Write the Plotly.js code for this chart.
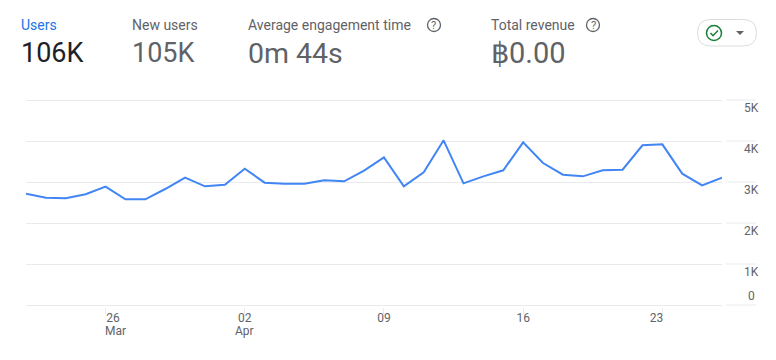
<!DOCTYPE html>
<html>
<head>
<meta charset="utf-8">
<script src="https://cdn.plot.ly/plotly-3.0.1.min.js"></script>
<style>html,body{margin:0;padding:0;background:#fff;overflow:hidden}</style>
</head>
<body>
<div id="chart" style="width:776px;height:360px"></div>
<script>
const dates = ['2023-03-22','2023-03-23','2023-03-24','2023-03-25','2023-03-26','2023-03-27','2023-03-28','2023-03-29','2023-03-30','2023-03-31','2023-04-01','2023-04-02','2023-04-03','2023-04-04','2023-04-05','2023-04-06','2023-04-07','2023-04-08','2023-04-09','2023-04-10','2023-04-11','2023-04-12','2023-04-13','2023-04-14','2023-04-15','2023-04-16','2023-04-17','2023-04-18','2023-04-19','2023-04-20','2023-04-21','2023-04-22','2023-04-23','2023-04-24','2023-04-25','2023-04-26'];
const users = [2715,2618,2602,2700,2886,2577,2577,2829,3106,2894,2935,3325,2984,2959,2959,3040,3016,3276,3600,2894,3236,4016,2967,3138,3285,3967,3463,3179,3138,3285,3300,3894,3918,3203,2919,3106];
const xTickVals = ['2023-03-26','2023-04-02','2023-04-09','2023-04-16','2023-04-23'];
const xTickText = ['\u00a0\u00a0\u00a0\u00a0\u00a026','02','09','16','23\u00a0\u00a0\u00a0\u00a0'];
const monthLabels = ['Mar','Apr'];
const monthDates = ['2023-03-26','2023-04-02'];
const yTickVals = [0,1000,2000,3000,4000,5000];
const yTickText = ['','1K','2K','3K','4K','5K'];
const metricLabels = ['Users','New users','Average engagement time','Total revenue'];
const metricValues = ['106K','105K','0m 44s','\u0E3F0.00'];
const metricSizes = [27,27,28.5,29];

const W=776,H=360,L=26,R=54,T=98,B=53;
const yPad=2*5000/205;
const px=x=>(x-L)/(W-L-R), py=y=>1-(y-T)/(H-T-B);
const FONT='Roboto, sans-serif', GREY='#5f6368', GRID='#e8eaed';
const labelX=[20,131,247,490];
const labelCol=['#1a73e8',GREY,GREY,GREY];
const valueCol=['#202124',GREY,GREY,GREY];

const ann=[];
function text(t,x,y,size,color,anchor){
  ann.push({text:t,x:px(x),y:py(y),xref:'paper',yref:'paper',xanchor:anchor||'left',yanchor:'middle',showarrow:false,borderpad:0,
    font:{family:FONT,size:size,color:color}});
}
metricLabels.forEach((t,i)=>text(t,labelX[i],25,14,labelCol[i]));
metricValues.forEach((t,i)=>text(t,labelX[i],53,metricSizes[i],valueCol[i]));
text('?',434,25,11,GREY,'center');
text('?',593,25,11,GREY,'center');
text('0',756,296,12,GREY,'right');
monthLabels.forEach((t,i)=>ann.push({text:t,x:monthDates[i],xref:'x',y:py(330.5),yref:'paper',xanchor:'center',yanchor:'middle',
  xshift:i===0?10:0,showarrow:false,borderpad:0,font:{family:FONT,size:12,color:GREY}}));

const shapes=[];
function paperShape(o){shapes.push(Object.assign({xref:'paper',yref:'paper',layer:'above'},o));}
function circle(cx,cy,r,color,w){paperShape({type:'circle',x0:px(cx-r),x1:px(cx+r),y0:py(cy+r),y1:py(cy-r),line:{color:color,width:w}});}
circle(434,25,6.5,GREY,1.3);
circle(593,25,6.5,GREY,1.3);
const P=(x,y)=>px(x)+' '+py(y);
const a=697.5,b=756.5,c=19.5,d=46,r=13.25;
paperShape({type:'path',path:`M ${P(a+r,c)} L ${P(b-r,c)} Q ${P(b,c)} ${P(b,(c+d)/2)} Q ${P(b,d)} ${P(b-r,d)} L ${P(a+r,d)} Q ${P(a,d)} ${P(a,(c+d)/2)} Q ${P(a,c)} ${P(a+r,c)} Z`,line:{color:'#dadce0',width:1}});
circle(714,33,7.5,'#188038',1.5);
paperShape({type:'path',path:`M ${P(710.5,33)} L ${P(713,35.7)} L ${P(718,30.5)}`,line:{color:'#188038',width:1.5}});
paperShape({type:'path',path:`M ${P(736,31)} L ${P(744,31)} L ${P(740,35)} Z`,fillcolor:GREY,line:{width:0}});
yTickVals.forEach(v=>shapes.push({type:'line',xref:'paper',yref:'y',x0:px(726),x1:px(756),y0:v,y1:v,line:{color:GRID,width:1},layer:'below'}));

Plotly.newPlot('chart',[{
  type:'scatter',mode:'lines',x:dates,y:users,
  line:{color:'#4285f4',width:2},hoverinfo:'skip',cliponaxis:false
}],{
  width:W,height:H,margin:{l:L,r:R,t:T,b:B,pad:0},
  paper_bgcolor:'#fff',plot_bgcolor:'#fff',showlegend:false,
  font:{family:FONT,size:12,color:GREY},
  xaxis:{type:'date',range:['2023-03-22','2023-04-26'],tickmode:'array',tickvals:xTickVals,ticktext:xTickText,
    showgrid:false,zeroline:false,showline:false,ticks:'outside',ticklen:6,tickwidth:1,tickcolor:GRID,tickangle:0,
    ticklabelstandoff:-6,
    tickfont:{family:FONT,size:12,color:GREY},fixedrange:true},
  yaxis:{range:[-yPad,5000+yPad],side:'right',tickmode:'array',tickvals:yTickVals,ticktext:yTickText,
    showgrid:true,gridcolor:GRID,gridwidth:1,zeroline:false,showline:false,ticks:'',
    ticklabelstandoff:21,ticklabelshift:8,
    tickfont:{family:FONT,size:12,color:GREY},fixedrange:true},
  annotations:ann,shapes:shapes
},{displayModeBar:false,staticPlot:true});
</script>
</body>
</html>
